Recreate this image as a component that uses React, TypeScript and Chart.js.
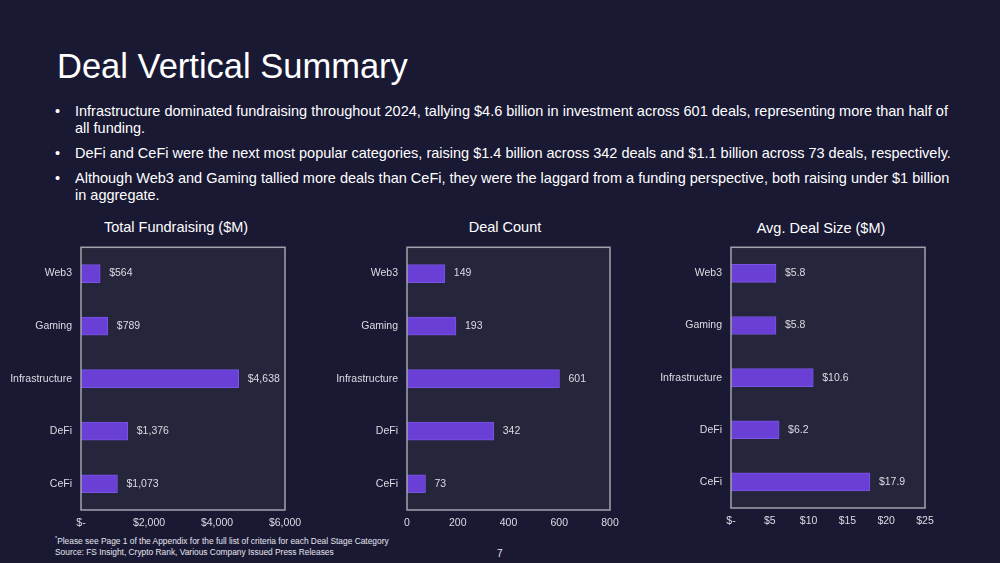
import React, { useEffect, useRef } from "react";
import { Chart, registerables } from "chart.js";

Chart.register(...registerables);

const categories = ["Web3", "Gaming", "Infrastructure", "DeFi", "CeFi"];
const fundraising = [564, 789, 4638, 1376, 1073];
const dealCount = [149, 193, 601, 342, 73];
const avgDealSize = [5.8, 5.8, 10.6, 6.2, 17.9];

const fundraisingTicks = { min: 0, max: 6000, step: 2000 };
const dealCountTicks = { min: 0, max: 800, step: 200 };
const avgTicks = { min: 0, max: 25, step: 5 };

const BG = "#1a1934";
const PLOT_BG = "#25253b";
const FRAME = "#a3a3ad";
const BAR = "#6a3fd6";
const BAR_BORDER = "#7a55e2";
const TXT = "#dcdce4";
const FONT = "'Liberation Sans', Arial, sans-serif";

const money = (v: number) => (v === 0 ? "$-" : "$" + v.toLocaleString("en-US"));
const plain = (v: number) => String(v);
const moneyDec = (v: number) => "$" + v.toFixed(1);

type Cfg = {
  values: number[];
  ticks: { min: number; max: number; step: number };
  tickFmt: (v: number) => string;
  labelFmt: (v: number) => string;
  left: number;
  yWidth: number;
  plotWidth: number;
  plotHeight: number;
};

function BarPanel({ cfg }: { cfg: Cfg }) {
  const ref = useRef<HTMLCanvasElement | null>(null);
  const padRight = 30;
  const padTop = 10;
  const xH = 22;
  const width = cfg.yWidth + cfg.plotWidth + padRight;
  const height = padTop + cfg.plotHeight + xH;

  useEffect(() => {
    if (!ref.current) return;
    const framePlugin = {
      id: "frame",
      beforeDatasetsDraw(chart: any) {
        const { ctx, chartArea: a } = chart;
        ctx.save();
        ctx.fillStyle = PLOT_BG;
        ctx.fillRect(a.left, a.top, a.right - a.left, a.bottom - a.top);
        ctx.restore();
      },
      afterDatasetsDraw(chart: any) {
        const { ctx, chartArea: a } = chart;
        ctx.save();
        ctx.strokeStyle = FRAME;
        ctx.lineWidth = 1.5;
        ctx.strokeRect(a.left, a.top, a.right - a.left, a.bottom - a.top);
        const meta = chart.getDatasetMeta(0);
        ctx.fillStyle = TXT;
        ctx.font = `10.5px ${FONT}`;
        ctx.textAlign = "left";
        ctx.textBaseline = "middle";
        meta.data.forEach((el: any, i: number) => {
          const v = chart.data.datasets[0].data[i] as number;
          ctx.fillText(cfg.labelFmt(v), el.x + 9, el.y);
        });
        ctx.restore();
      },
    };
    const chart = new Chart(ref.current, {
      type: "bar",
      data: {
        labels: categories,
        datasets: [
          {
            data: cfg.values,
            backgroundColor: BAR,
            borderColor: BAR_BORDER,
            borderWidth: 1,
            barThickness: 18,
          },
        ],
      },
      options: {
        indexAxis: "y",
        animation: false,
        responsive: false,
        maintainAspectRatio: false,
        layout: { padding: { left: 0, right: padRight, top: padTop, bottom: 0 } },
        plugins: { legend: { display: false }, tooltip: { enabled: false }, title: { display: false } },
        scales: {
          x: {
            min: cfg.ticks.min,
            max: cfg.ticks.max,
            grid: { display: false, drawTicks: false },
            border: { display: false },
            ticks: {
              stepSize: cfg.ticks.step,
              color: TXT,
              font: { family: FONT, size: 10.5 },
              padding: 7,
              maxRotation: 0,
              callback: (v: any) => cfg.tickFmt(Number(v)),
            },
            afterFit: (s: any) => {
              s.height = xH;
            },
          },
          y: {
            grid: { display: false, drawTicks: false },
            border: { display: false },
            ticks: { color: TXT, font: { family: FONT, size: 10.5 }, padding: 9 },
            afterFit: (s: any) => {
              s.width = cfg.yWidth;
            },
          },
        },
      },
      plugins: [framePlugin],
    } as any);
    return () => chart.destroy();
  }, []);

  return (
    <canvas
      ref={ref}
      width={width}
      height={height}
      style={{ position: "absolute", left: cfg.left, top: 232, width, height }}
    />
  );
}

const bullets = [
  [
    "Infrastructure dominated fundraising throughout 2024, tallying $4.6 billion in investment across 601 deals, representing more than half of",
    "all funding.",
  ],
  ["DeFi and CeFi were the next most popular categories, raising $1.4 billion across 342 deals and $1.1 billion across 73 deals, respectively."],
  [
    "Although Web3 and Gaming tallied more deals than CeFi, they were the laggard from a funding perspective, both raising under $1 billion",
    "in aggregate.",
  ],
];

const chartTitles = [
  { text: "Total Fundraising ($M)", x: 176, y: 227 },
  { text: "Deal Count", x: 505, y: 227 },
  { text: "Avg. Deal Size ($M)", x: 821, y: 228 },
];

export default function App() {
  const panels: Cfg[] = [
    { values: fundraising, ticks: fundraisingTicks, tickFmt: money, labelFmt: money, left: 0, yWidth: 81, plotWidth: 204, plotHeight: 268 },
    { values: dealCount, ticks: dealCountTicks, tickFmt: plain, labelFmt: plain, left: 320, yWidth: 87, plotWidth: 203, plotHeight: 268 },
    { values: avgDealSize, ticks: avgTicks, tickFmt: money, labelFmt: moneyDec, left: 640, yWidth: 91, plotWidth: 194, plotHeight: 266 },
  ];
  return (
    <div
      style={{
        position: "absolute",
        left: 0,
        top: 0,
        width: 1000,
        height: 563,
        background: BG,
        overflow: "hidden",
        fontFamily: FONT,
        color: "#ffffff",
      }}
    >
      <div style={{ position: "absolute", left: 57, top: 46, fontSize: 34.5, lineHeight: "40px", whiteSpace: "nowrap" }}>
        Deal Vertical Summary
      </div>
      <div style={{ position: "absolute", left: 0, top: 103, width: 1000 }}>
        {bullets.map((lines, i) => (
          <div key={i} style={{ position: "relative", marginBottom: 8, fontSize: 14.5, lineHeight: "17px" }}>
            <div style={{ position: "absolute", left: 55 }}>•</div>
            {lines.map((l, j) => (
              <div key={j} style={{ marginLeft: 75, whiteSpace: "nowrap" }}>
                {l}
              </div>
            ))}
          </div>
        ))}
      </div>
      {chartTitles.map((t, i) => (
        <div
          key={i}
          style={{
            position: "absolute",
            left: t.x - 150,
            width: 300,
            top: t.y - 9,
            textAlign: "center",
            fontSize: 14.5,
            lineHeight: "18px",
            whiteSpace: "nowrap",
          }}
        >
          {t.text}
        </div>
      ))}
      {panels.map((p, i) => (
        <BarPanel key={i} cfg={p} />
      ))}
      <div style={{ position: "absolute", left: 55, top: 532, fontSize: 8.4, lineHeight: "12px", color: "#e6e6ee", whiteSpace: "nowrap" }}>
        <sup style={{ fontSize: 5.5 }}>*</sup>Please see Page 1 of the Appendix for the full list of criteria for each Deal Stage Category
      </div>
      <div style={{ position: "absolute", left: 55, top: 546, fontSize: 8.4, lineHeight: "12px", color: "#e6e6ee", whiteSpace: "nowrap" }}>
        Source: FS Insight, Crypto Rank, Various Company Issued Press Releases
      </div>
      <div style={{ position: "absolute", left: 497, top: 548, fontSize: 10, lineHeight: "12px", color: "#e6e6ee" }}>7</div>
    </div>
  );
}
